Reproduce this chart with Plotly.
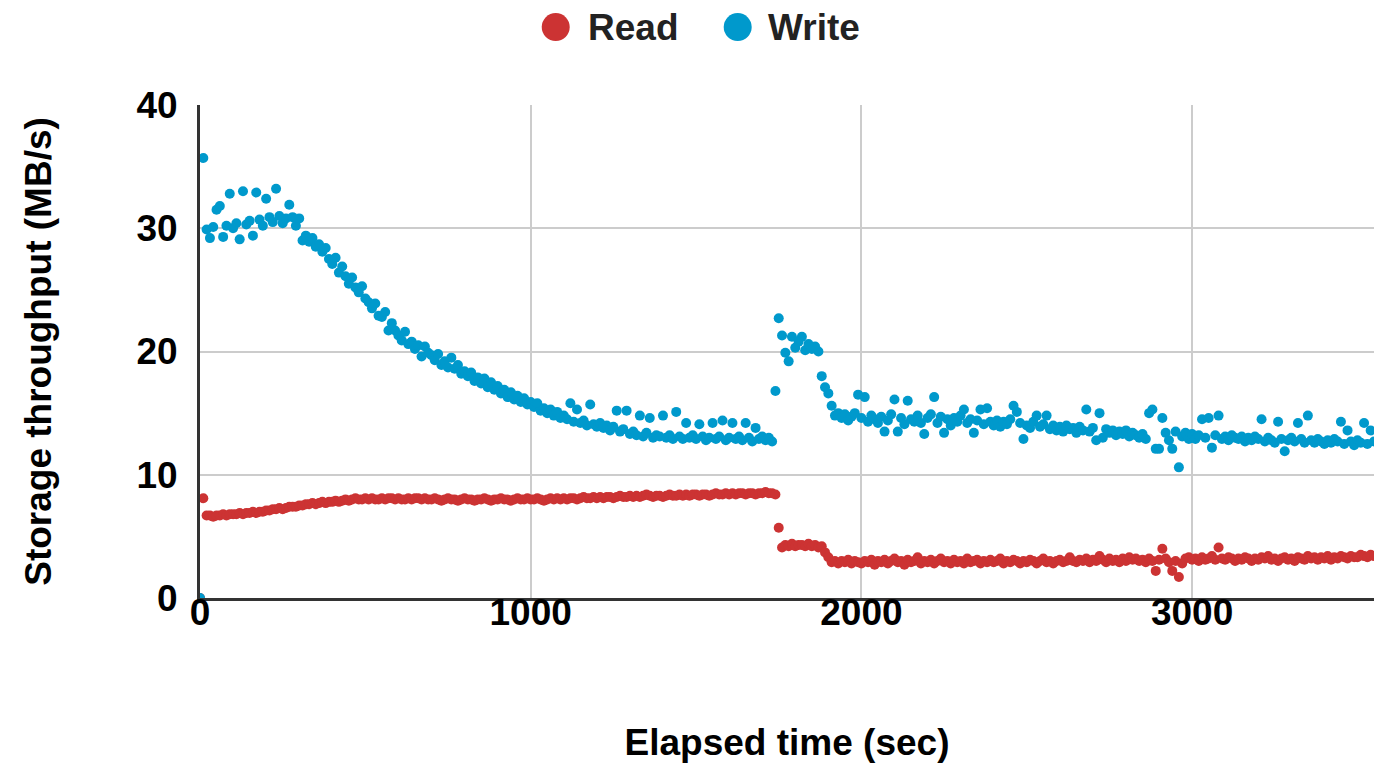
import plotly.graph_objects as go

# Elapsed time samples (seconds), one sample every 10 s
elapsed_sec = list(range(0, 3560, 10))

read_mbps = [
    0, 8.1, 6.7, 6.7, 6.6, 6.7, 6.7, 6.8, 6.7, 6.8,
    6.8, 6.8, 6.9, 6.8, 6.9, 6.9, 7.0, 6.9, 7.0, 7.0,
    7.1, 7.1, 7.2, 7.2, 7.3, 7.2, 7.3, 7.4, 7.4, 7.4,
    7.5, 7.5, 7.6, 7.6, 7.7, 7.6, 7.7, 7.8, 7.7, 7.8,
    7.8, 7.9, 7.8, 7.9, 8.0, 7.9, 8.0, 8.1, 8.0, 8.0,
    8.1, 8.0, 8.1, 8.0, 8.0, 8.1, 8.0, 8.1, 8.1, 8.0,
    8.1, 8.0, 8.0, 8.1, 8.0, 8.1, 8.1, 8.0, 8.1, 8.0,
    8.0, 8.1, 8.0, 7.9, 8.0, 8.1, 8.0, 8.0, 7.9, 8.0,
    8.1, 8.0, 8.0, 7.9, 8.0, 8.0, 8.1, 8.0, 7.9, 8.0,
    8.0, 8.1, 8.0, 8.0, 7.9, 8.0, 8.1, 8.0, 8.0, 8.1,
    8.0, 8.0, 8.1, 8.0, 7.9, 8.0, 8.1, 8.0, 8.1, 8.0,
    8.1, 8.0, 8.1, 8.1, 8.0, 8.1, 8.2, 8.1, 8.1, 8.2,
    8.1, 8.2, 8.1, 8.2, 8.2, 8.1, 8.2, 8.3, 8.2, 8.2,
    8.3, 8.2, 8.3, 8.2, 8.3, 8.4, 8.3, 8.2, 8.3, 8.3,
    8.2, 8.3, 8.4, 8.3, 8.3, 8.4, 8.3, 8.4, 8.3, 8.4,
    8.4, 8.3, 8.4, 8.4, 8.3, 8.4, 8.5, 8.4, 8.4, 8.5,
    8.4, 8.5, 8.4, 8.5, 8.5, 8.4, 8.5, 8.5, 8.4, 8.5,
    8.5, 8.6, 8.5, 8.5, 8.4, 5.7, 4.1, 4.3, 4.2, 4.4,
    4.2, 4.3, 4.3, 4.2, 4.4, 4.2, 4.3, 4.1, 4.2, 3.7,
    3.3, 2.9, 3.0, 2.8, 3.0, 2.9, 3.1, 2.8, 3.0, 2.9,
    2.8, 3.0, 2.9, 3.1, 2.7, 3.0, 2.9, 3.1, 2.8, 3.0,
    3.2, 2.9, 3.0, 2.7, 3.1, 2.9, 3.0, 3.3, 2.8, 3.0,
    2.9, 3.1, 2.8, 3.0, 3.2, 2.9, 3.0, 2.8, 3.1, 2.9,
    3.0, 2.8, 3.2, 2.9, 3.0, 3.1, 2.8, 3.0, 2.9, 3.1,
    2.9, 3.0, 3.2, 2.8, 3.0, 2.9, 3.1, 3.0, 2.8, 3.0,
    2.9, 3.1, 3.0, 2.8, 3.0, 3.2, 2.9, 3.0, 2.8, 3.0,
    3.1, 2.9, 3.0, 3.3, 3.0, 2.9, 3.1, 3.0, 3.2, 2.9,
    3.1, 3.0, 3.4, 3.1, 2.9, 3.2, 3.0, 3.1, 2.9, 3.2,
    3.0, 3.3, 3.1, 3.2, 3.0, 3.1, 2.9, 3.2, 3.0, 2.2,
    3.1, 4.0, 3.2, 2.9, 2.2, 3.0, 1.7, 2.8, 3.2, 3.3,
    3.1, 3.2, 3.0, 3.3, 3.1, 3.2, 3.4, 3.1, 4.1, 3.2,
    3.1, 3.3, 3.2, 3.0, 3.2, 3.1, 3.3, 3.2, 3.0, 3.2,
    3.1, 3.3, 3.2, 3.4, 3.1, 3.2, 3.0, 3.2, 3.3, 3.1,
    3.2, 3.0, 3.3, 3.2, 3.1, 3.4, 3.2, 3.3, 3.1, 3.3,
    3.2, 3.4, 3.1, 3.3, 3.2, 3.4, 3.3, 3.2, 3.4, 3.3,
    3.3, 3.5, 3.4, 3.3, 3.5, 3.4,
]

write_mbps = [
    0, 35.7, 29.9, 29.2, 30.1, 31.5, 31.8, 29.3, 30.2, 32.8,
    30.0, 30.4, 29.1, 33.0, 30.3, 30.6, 29.4, 32.9, 30.7, 30.2,
    32.4, 30.9, 30.5, 33.2, 31.0, 30.4, 30.8, 31.9, 30.9, 30.2,
    30.8, 29.0, 29.4, 28.9, 29.2, 28.5, 28.7, 28.1, 28.4, 27.5,
    27.1, 27.6, 26.4, 26.9, 26.1, 25.5, 26.0, 25.2, 24.8, 25.3,
    24.3, 24.0, 23.5, 23.9, 22.9, 22.8, 23.2, 21.7, 22.3, 21.7,
    21.3, 20.9, 21.6, 20.6, 20.8, 20.2, 20.5, 19.6, 20.4, 19.9,
    19.7, 19.3, 19.8, 18.9, 19.2, 18.7, 19.5, 18.6, 18.9, 18.2,
    18.4, 18.0, 18.3, 17.6, 17.9, 17.4, 17.8, 17.1, 17.5, 16.9,
    17.2, 16.6, 16.9, 16.3, 16.7, 16.1, 16.4, 15.9, 16.2, 15.7,
    15.9, 15.5, 15.8, 15.2, 15.4, 15.0, 15.3, 14.8, 15.1, 14.6,
    14.8, 14.5, 15.8, 14.3, 15.3, 14.2, 14.4, 14.0, 15.7, 14.1,
    13.9, 14.2, 13.8, 14.0, 13.6, 13.9, 15.2, 13.5, 13.7, 15.2,
    13.3, 13.5, 13.2, 14.8, 13.1, 13.4, 14.6, 13.0, 13.2, 13.1,
    14.8, 13.0, 13.2, 12.9, 15.1, 13.1, 12.9, 14.2, 13.0, 13.2,
    12.9, 14.1, 13.1, 12.8, 13.0, 14.2, 12.9, 13.1, 14.4, 12.8,
    13.0, 14.2, 12.9, 13.1, 12.8, 14.2, 13.0, 12.7, 13.8, 12.9,
    13.1, 12.8, 13.0, 12.7, 16.8, 22.7, 21.3, 19.9, 19.2, 21.2,
    20.3, 20.8, 21.2, 20.1, 20.6, 20.2, 20.4, 20.0, 18.0, 17.1,
    16.6, 15.6, 14.8, 15.0, 14.6, 14.9, 14.4, 14.7, 15.0, 16.5,
    14.6, 16.3, 14.3, 14.8, 14.5, 14.2, 14.7, 13.5, 14.4, 14.9,
    16.1, 13.5, 14.6, 14.1, 16.0, 14.5, 14.3, 14.8, 14.2, 13.3,
    14.6, 14.9, 16.3, 14.2, 14.7, 13.4, 14.5, 14.0, 14.6, 14.3,
    14.8, 15.3, 14.2, 14.5, 13.4, 14.4, 15.3, 14.1, 15.4, 14.3,
    14.0, 14.4, 13.9, 14.3, 14.1, 14.5, 15.6, 15.1, 14.2, 12.9,
    14.0, 13.8, 14.3, 14.8, 13.9, 14.1, 14.8, 13.7, 14.0, 13.6,
    13.9, 13.5, 14.0, 13.7, 13.8, 13.4, 13.9, 13.6, 15.3, 13.5,
    13.8, 12.8, 15.0, 13.0, 13.7, 13.4, 13.6, 13.2, 13.5, 13.3,
    13.6, 13.1, 13.4, 13.2, 13.0, 13.3, 12.9, 15.0, 15.3, 12.1,
    12.1, 14.6, 13.4, 12.8, 12.1, 13.5, 10.6, 13.1, 13.4, 12.9,
    13.3, 12.9, 13.2, 14.5, 13.0, 14.6, 12.2, 13.2, 14.8, 12.9,
    13.1, 12.8, 13.2, 13.0, 12.9, 13.1, 12.7, 13.0, 12.8, 13.1,
    12.9, 14.5, 12.7, 13.0, 12.8, 12.6, 14.3, 12.9, 11.9, 12.8,
    13.0, 12.7, 14.2, 12.9, 12.6, 14.8, 12.8, 12.6, 12.9, 12.7,
    12.5, 12.8, 12.6, 12.9, 12.7, 14.3, 12.5, 13.6, 12.7, 12.4,
    12.8, 12.6, 14.2, 12.5, 13.6, 12.7,
]

x_ticks = [0, 1000, 2000, 3000]
y_ticks = [0, 10, 20, 30, 40]
series_names = ["Read", "Write"]

READ_COLOR = "#cc3333"
WRITE_COLOR = "#0099cc"
FONT = "Liberation Sans, Arial, sans-serif"
bold = dict(family=FONT, size=37, color="black", weight="bold")

fig = go.Figure()
fig.add_trace(go.Scatter(
    x=elapsed_sec, y=read_mbps, mode="markers", name=series_names[0],
    marker=dict(color=READ_COLOR, size=10, line=dict(width=0)),
))
fig.add_trace(go.Scatter(
    x=elapsed_sec, y=write_mbps, mode="markers", name=series_names[1],
    marker=dict(color=WRITE_COLOR, size=10, line=dict(width=0)),
))

# Legend: large round swatches + bold labels above the plot
LEGEND_Y = 1.158
legend_items = [
    (series_names[0], READ_COLOR, 0.303, 0.329),
    (series_names[1], WRITE_COLOR, 0.458, 0.482),
]
annotations = []
shapes = []
for name, color, xs, xt in legend_items:
    shapes.append(dict(
        type="circle", xref="paper", yref="paper",
        xsizemode="pixel", ysizemode="pixel",
        xanchor=xs, yanchor=LEGEND_Y,
        x0=-14, x1=14, y0=-14, y1=14,
        fillcolor=color, line=dict(width=0), layer="above",
    ))
    annotations.append(dict(
        text=name, x=xt, y=LEGEND_Y, xref="paper", yref="paper",
        xanchor="left", yanchor="middle", showarrow=False,
        font=dict(family=FONT, size=37, color="#222222", weight="bold"),
    ))

fig.update_layout(
    width=1374, height=763,
    margin=dict(l=200, r=0, t=105, b=165, autoexpand=False),
    paper_bgcolor="white", plot_bgcolor="white",
    font=bold,
    showlegend=False,
    annotations=annotations,
    shapes=shapes,
    xaxis=dict(
        range=[0, 3550], tickvals=x_ticks, automargin=False,
        showgrid=True, gridcolor="#cccccc", gridwidth=2,
        showline=True, linecolor="#333333", linewidth=3,
        zeroline=False, ticks="", ticklabelstandoff=-20,
        tickfont=bold,
        title=dict(text="Elapsed time (sec)", standoff=98, font=bold),
    ),
    yaxis=dict(
        range=[0, 40], tickvals=y_ticks, automargin=False,
        showgrid=True, gridcolor="#cccccc", gridwidth=2,
        showline=True, linecolor="#333333", linewidth=3,
        zeroline=False, ticks="", ticklabelstandoff=12,
        tickfont=bold,
        title=dict(text="Storage throughput (MB/s)", standoff=74, font=bold),
    ),
)

# Place the figure flush with the page corner (no default body margin / scrollbars)
fig.write_html(
    "out.html",
    config={"displayModeBar": False},
    post_script="document.body.style.margin='0';document.body.style.overflow='hidden';",
)
